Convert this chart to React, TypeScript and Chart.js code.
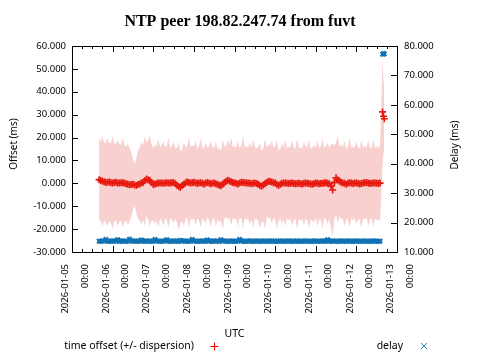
import React, { useEffect, useRef } from 'react';
import { Chart, registerables } from 'chart.js';

Chart.register(...registerables);

// Hours since 2026-01-05 00:00 UTC
const hours = [
  16, 17, 18, 19, 20, 21, 22, 23, 24, 25,
  26, 27, 28, 29, 30, 31, 32, 33, 34, 35,
  36, 37, 38, 39, 40, 41, 42, 43, 44, 45,
  46, 47, 48, 49, 50, 51, 52, 53, 54, 55,
  56, 57, 58, 59, 60, 61, 62, 63, 64, 65,
  66, 67, 68, 69, 70, 71, 72, 73, 74, 75,
  76, 77, 78, 79, 80, 81, 82, 83, 84, 85,
  86, 87, 88, 89, 90, 91, 92, 93, 94, 95,
  96, 97, 98, 99, 100, 101, 102, 103, 104, 105,
  106, 107, 108, 109, 110, 111, 112, 113, 114, 115,
  116, 117, 118, 119, 120, 121, 122, 123, 124, 125,
  126, 127, 128, 129, 130, 131, 132, 133, 134, 135,
  136, 137, 138, 139, 140, 141, 142, 143, 144, 145,
  146, 147, 148, 149, 150, 151, 152, 153, 154, 155,
  156, 157, 158, 159, 160, 161, 162, 163, 164, 165,
  166, 167, 168, 169, 170, 171, 172, 173, 174, 175,
  176, 177, 178, 179, 180, 181, 182,
  183.5, 184, 184.5,
];

// Time offset (ms)
const offsetMs = [
  1.6, 1.2, 0.9, 0.7, 0.4, 0.5, 0.6, 0.3, 0.2, 0.4,
  0.5, 0.2, 0.1, 0.3, 0.3, 0.0, -0.2, -0.4, -0.6, -0.5,
  -0.4, -0.7, -0.9, -0.5, -0.3, 0.1, 0.4, 1.1, 1.9, 1.6,
  1.2, 0.4, -0.5, -0.3, -0.1, 0.1, 0.2, 0.1, 0.0, 0.2,
  0.3, 0.2, 0.1, 0.3, 0.4, -0.2, -0.8, -1.4, -1.8, -1.0,
  -0.4, 0.1, 0.6, 0.4, 0.2, 0.3, 0.5, 0.2, 0.0, 0.1,
  0.3, 0.0, -0.3, 0.1, 0.4, 0.1, -0.2, 0.0, 0.1, -0.2,
  -0.5, -0.8, -1.1, -0.4, 0.3, 0.9, 1.4, 1.0, 0.7, 0.4,
  0.2, 0.0, -0.3, 0.1, 0.5, 0.4, 0.3, 0.2, 0.1, 0.0,
  -0.2, 0.0, 0.2, -0.1, -0.4, -0.9, -1.3, -0.7, -0.2, 0.4,
  0.9, 0.8, 0.6, 0.3, 0.1, -0.4, -0.9, -0.4, 0.0, 0.1,
  0.2, 0.0, -0.1, 0.0, 0.1, -0.1, -0.2, -0.1, 0.0, -0.2,
  -0.3, 0.0, 0.2, 0.0, -0.1, -0.3, -0.4, -0.1, 0.1, 0.0,
  -0.2, -0.1, 0.0, 0.2, 0.3, 0.0, -0.2, -1.2, -2.9, 0.4,
  2.4, 1.5, 0.9, 0.5, 0.2, 0.0, -0.4, 0.0, 0.3, 0.1,
  -0.1, 0.1, 0.2, 0.0, -0.3, -0.1, 0.1, 0.3, 0.4, 0.1,
  -0.1, 0.0, 0.2, 0.1, 0.0, -0.1, 0.1,
  31.2, 29.3, 28.2,
];

// Dispersion (ms), drawn as a +/- band around the offset
const dispersionMs = [
  18.5, 17.0, 19.8, 16.9, 17.4, 19.2, 16.8, 17.6, 20.1, 17.0,
  16.7, 18.8, 17.1, 16.6, 19.5, 16.9, 16.2, 17.8, 16.0, 14.2,
  11.0, 9.2, 11.8, 15.0, 16.1, 17.9, 16.4, 19.6, 16.2, 17.3,
  19.9, 16.5, 15.8, 17.4, 16.1, 19.3, 15.7, 16.4, 18.6, 15.5,
  16.2, 19.7, 15.6, 16.0, 17.9, 15.4, 16.3, 19.1, 15.8, 15.5,
  18.4, 16.0, 15.3, 19.8, 15.9, 16.4, 15.6, 18.2, 15.4, 16.1,
  19.4, 15.5, 15.8, 17.6, 15.3, 16.2, 19.0, 15.7, 15.4, 18.5,
  15.6, 16.1, 15.3, 19.6, 15.8, 15.5, 17.4, 15.9, 19.2, 15.4,
  16.0, 15.6, 18.8, 15.3, 15.9, 19.9, 15.5, 16.2, 15.4, 17.8,
  15.6, 19.3, 15.8, 15.4, 16.3, 18.6, 15.5, 15.9, 19.7, 15.3,
  16.1, 15.7, 18.2, 15.4, 16.0, 19.5, 15.6, 15.3, 17.5, 15.8,
  19.1, 15.4, 16.2, 15.5, 18.7, 15.9, 15.3, 19.8, 15.6, 16.0,
  15.4, 18.3, 15.7, 16.1, 19.4, 15.5, 15.8, 17.2, 15.3, 18.9,
  15.6, 16.0, 19.6, 15.4, 15.9, 17.7, 15.5, 18.4, 20.2, 16.1,
  15.7, 19.0, 15.4, 16.2, 15.6, 18.6, 15.3, 15.9, 19.5, 15.5,
  16.1, 15.4, 18.0, 15.8, 15.5, 19.3, 15.6, 16.0, 15.4, 18.7,
  15.7, 15.3, 19.1, 15.6, 16.2, 15.5, 16.8,
  23.0, 16.5, 13.5,
];

// Delay (ms)
const delayMs = [
  13.7, 13.6, 13.8, 13.7, 14.3, 13.7, 13.6, 13.7, 13.8, 13.7,
  13.7, 14.2, 13.6, 13.7, 13.8, 13.7, 13.6, 13.7, 14.4, 13.7,
  13.7, 13.8, 13.6, 13.7, 13.7, 14.1, 13.7, 13.6, 13.8, 13.7,
  13.7, 13.6, 13.7, 14.3, 13.8, 13.7, 13.6, 13.7, 13.7, 13.8,
  14.2, 13.7, 13.6, 13.7, 13.8, 13.7, 13.7, 13.6, 14.0, 13.7,
  13.8, 13.7, 13.6, 13.7, 13.7, 14.3, 13.8, 13.7, 13.6, 13.7,
  13.7, 13.8, 13.6, 13.7, 14.1, 13.7, 13.7, 13.6, 13.8, 13.7,
  13.7, 13.6, 14.2, 13.7, 13.8, 13.7, 13.6, 13.7, 13.7, 13.8,
  13.6, 13.7, 13.7, 14.3, 13.8, 13.7, 13.6, 13.7, 13.7, 13.8,
  13.7, 13.6, 13.7, 13.8, 13.7, 13.6, 13.7, 13.7, 13.8, 13.6,
  13.7, 13.7, 13.8, 13.6, 13.7, 13.7, 13.6, 13.8, 13.7, 13.7,
  13.6, 13.7, 13.8, 13.7, 13.6, 13.7, 13.7, 13.8, 13.6, 13.7,
  13.7, 13.6, 13.8, 13.7, 13.7, 13.6, 13.7, 13.8, 13.7, 13.6,
  13.7, 13.7, 13.8, 13.6, 13.7, 14.2, 13.7, 13.6, 13.8, 13.7,
  13.7, 13.6, 13.7, 13.8, 13.7, 13.7, 13.6, 13.8, 13.7, 13.7,
  13.6, 13.7, 13.8, 13.7, 13.6, 13.7, 13.7, 13.8, 13.6, 13.7,
  13.7, 13.6, 13.8, 13.7, 13.7, 13.6, 13.7,
  77.2, 77.4, 77.3,
];

const dayLabels = [
  '2026-01-05', '2026-01-06', '2026-01-07', '2026-01-08', '2026-01-09',
  '2026-01-10', '2026-01-11', '2026-01-12', '2026-01-13',
];

const TITLE = 'NTP peer 198.82.247.74 from fuvt';
const OFFSET_LABEL = 'time offset (+/- dispersion)';
const DELAY_LABEL = 'delay';
const X_TITLE = 'UTC';
const Y_TITLE = 'Offset (ms)';
const Y2_TITLE = 'Delay (ms)';

const RED = '#e6190e';
const BLUE = '#0f72b4';
const PINK = 'rgb(248,208,208)';
const SANS = '"Noto Sans", "Open Sans", sans-serif';

export default function App() {
  const ref = useRef<HTMLCanvasElement>(null);

  useEffect(() => {
    if (!ref.current) return;
    const upper = hours.map((h, i) => ({ x: h, y: offsetMs[i] + dispersionMs[i] }));
    const lower = hours.map((h, i) => ({ x: h, y: offsetMs[i] - dispersionMs[i] }));
    const offsetPts = hours.map((h, i) => ({ x: h, y: offsetMs[i] }));
    const delayPts = hours.map((h, i) => ({ x: h, y: delayMs[i] }));

    const deco = {
      id: 'deco',
      afterDraw(chart: any) {
        const ctx = chart.ctx as CanvasRenderingContext2D;
        const { left, right, top, bottom } = chart.chartArea;
        const xs = chart.scales.x;
        const ys = chart.scales.y;
        const y2 = chart.scales.y2;
        ctx.save();
        // frame
        ctx.strokeStyle = '#000';
        ctx.lineWidth = 1;
        ctx.strokeRect(Math.round(left) + 0.5, Math.round(top) + 0.5, Math.round(right - left), Math.round(bottom - top));
        ctx.beginPath();
        // x ticks every 6h, major every 24h
        for (let h = xs.min; h <= xs.max; h += 6) {
          const px = Math.round(xs.getPixelForValue(h)) + 0.5;
          const len = h % 24 === 0 ? 6 : 3;
          ctx.moveTo(px, bottom);
          ctx.lineTo(px, bottom - len);
          ctx.moveTo(px, top);
          ctx.lineTo(px, top + len);
        }
        for (let v = ys.min; v <= ys.max; v += 10) {
          const py = Math.round(ys.getPixelForValue(v)) + 0.5;
          ctx.moveTo(left, py);
          ctx.lineTo(left + 6, py);
        }
        for (let v = y2.min; v <= y2.max; v += 10) {
          const py = Math.round(y2.getPixelForValue(v)) + 0.5;
          ctx.moveTo(right, py);
          ctx.lineTo(right - 6, py);
        }
        ctx.stroke();

        // title
        ctx.fillStyle = '#000';
        ctx.font = 'bold 16px "Liberation Serif", serif';
        ctx.textAlign = 'center';
        ctx.textBaseline = 'middle';
        ctx.fillText(TITLE, 240, 22);

        // axis titles
        ctx.font = '10px ' + SANS;
        ctx.save();
        ctx.translate(14, 144);
        ctx.rotate(-Math.PI / 2);
        ctx.fillText(Y_TITLE, 0, 0);
        ctx.restore();
        ctx.save();
        ctx.translate(455, 145);
        ctx.rotate(-Math.PI / 2);
        ctx.fillText(Y2_TITLE, 0, 0);
        ctx.restore();

        ctx.font = '10.5px ' + SANS;
        ctx.fillText(X_TITLE, (left + right) / 2, 334);

        // legend
        ctx.textAlign = 'right';
        ctx.fillText(OFFSET_LABEL, 194, 346);
        ctx.fillText(DELAY_LABEL, 403, 346);
        ctx.lineWidth = 1;
        ctx.strokeStyle = '#ff0000';
        ctx.beginPath();
        ctx.moveTo(210.5, 346.5);
        ctx.lineTo(218.5, 346.5);
        ctx.moveTo(214.5, 342.5);
        ctx.lineTo(214.5, 350.5);
        ctx.stroke();
        ctx.strokeStyle = '#2a8ad0';
        ctx.beginPath();
        ctx.moveTo(421, 343);
        ctx.lineTo(427, 349);
        ctx.moveTo(427, 343);
        ctx.lineTo(421, 349);
        ctx.stroke();
        ctx.restore();
      },
    };

    const chart = new Chart(ref.current, {
      type: 'line',
      data: {
        datasets: [
          {
            label: DELAY_LABEL,
            data: delayPts,
            yAxisID: 'y2',
            showLine: false,
            pointStyle: 'crossRot',
            pointRadius: 3,
            pointBorderWidth: 2,
            borderColor: BLUE,
            backgroundColor: BLUE,
            order: 0,
          },
          {
            label: OFFSET_LABEL,
            data: offsetPts,
            yAxisID: 'y',
            showLine: false,
            pointStyle: 'cross',
            pointRadius: 3.5,
            pointBorderWidth: 1.6,
            borderColor: RED,
            backgroundColor: RED,
            order: 1,
          },
          {
            label: 'upper',
            data: upper,
            yAxisID: 'y',
            borderWidth: 0,
            borderColor: 'rgba(0,0,0,0)',
            pointRadius: 0,
            backgroundColor: PINK,
            fill: '+1',
            tension: 0,
            order: 2,
          },
          {
            label: 'lower',
            data: lower,
            yAxisID: 'y',
            borderWidth: 0,
            borderColor: 'rgba(0,0,0,0)',
            pointRadius: 0,
            backgroundColor: PINK,
            fill: false,
            tension: 0,
            order: 3,
          },
        ],
      },
      options: {
        animation: false,
        responsive: false,
        layout: { padding: { top: 46, left: 0, right: 0, bottom: 0 } },
        plugins: {
          legend: { display: false },
          title: { display: false },
          tooltip: { enabled: false },
        },
        events: [],
        scales: {
          x: {
            type: 'linear',
            min: 0,
            max: 192,
            afterFit(s: any) { s.height = 108; },
            grid: { display: false, drawTicks: false },
            border: { display: false },
            ticks: {
              stepSize: 24,
              autoSkip: false,
              minRotation: 90,
              maxRotation: 90,
              padding: 12,
              labelOffset: -6.5,
              color: '#000',
              font: { family: SANS, size: 9.5, lineHeight: '19.5px' },
              callback: (v: any) => {
                const i = Math.round(Number(v) / 24);
                return [dayLabels[i], '00:00'];
              },
            },
          },
          y: {
            type: 'linear',
            position: 'left',
            min: -30,
            max: 60,
            afterFit(s: any) { s.width = 72; },
            grid: { display: false, drawTicks: false },
            border: { display: false },
            ticks: {
              stepSize: 10,
              padding: 6,
              color: '#000',
              font: { family: SANS, size: 9.5 },
              callback: (v: any) => Number(v).toFixed(3),
            },
          },
          y2: {
            type: 'linear',
            position: 'right',
            min: 10,
            max: 80,
            afterFit(s: any) { s.width = 83; },
            grid: { display: false, drawTicks: false },
            border: { display: false },
            ticks: {
              stepSize: 10,
              padding: 7,
              color: '#000',
              font: { family: SANS, size: 9.5 },
              callback: (v: any) => Number(v).toFixed(3),
            },
          },
        },
      },
      plugins: [deco],
    } as any);
    return () => chart.destroy();
  }, []);

  return (
    <div style={{ position: 'absolute', left: 0, top: 0, width: 480, height: 360 }}>
      <canvas ref={ref} width={480} height={360} style={{ display: 'block', width: 480, height: 360 }} />
    </div>
  );
}
